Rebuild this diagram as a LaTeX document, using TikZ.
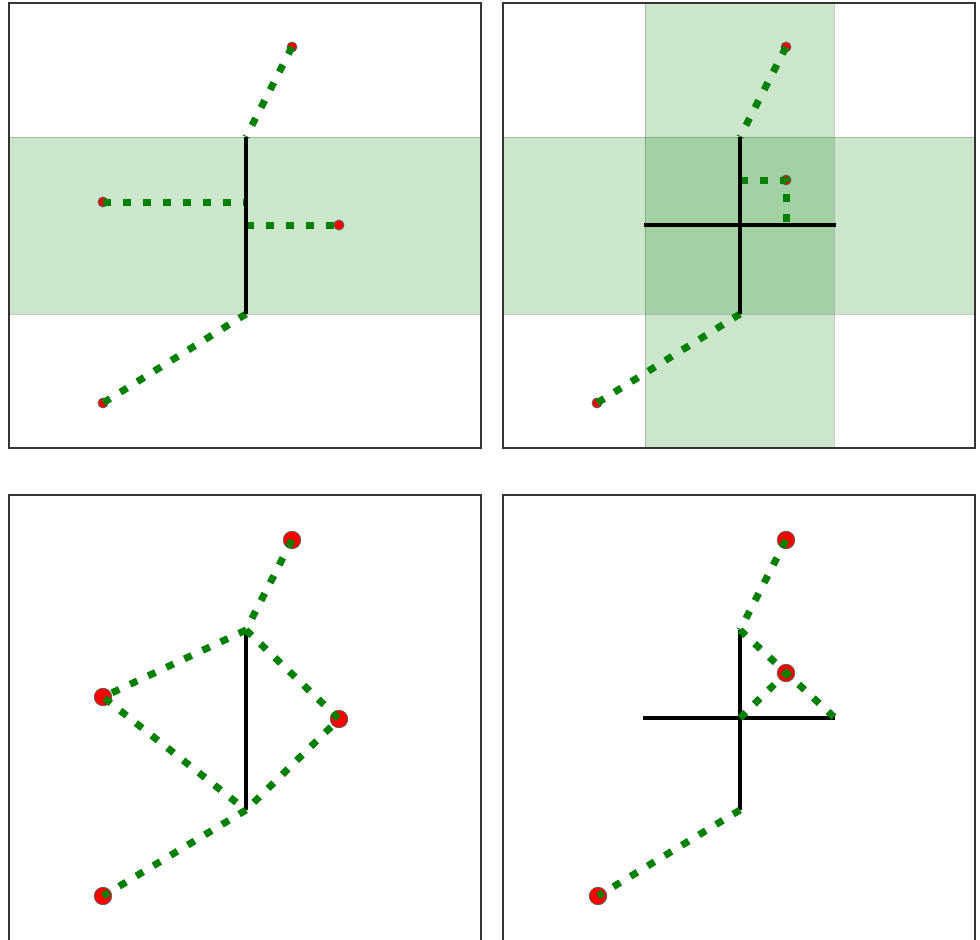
\documentclass[tikz,border=0pt]{standalone}
\usetikzlibrary{positioning}
\definecolor{mplgreen}{HTML}{008000}
\definecolor{mplred}{HTML}{FF0000}
\definecolor{edge}{HTML}{333333}

\begin{document}
\begin{tikzpicture}[x=0.2mm,y=-0.2mm]
  \tikzset{
    frame/.style={draw=edge,line width=.3mm},
    band/.style={fill=mplgreen,fill opacity=.2,draw=black,draw opacity=.2,line width=.2mm},
    seg/.style={draw=black,line width=.85mm},
    thinseg/.style={draw=black,line width=.65mm},
    link/.style={draw=mplgreen,line width=1.4mm,dash pattern=on 1.6mm off 2.4mm},
    dot/.style={circle,draw=edge!80,fill=mplred,inner sep=0pt,minimum size=2mm,line width=.15mm},
    bigdot/.style={dot,minimum size=3.5mm}
  }
  \useasboundingbox (0,0) rectangle (980,939);

  % top left
  \draw[band] (9,137) rectangle (481,314);
  \coordinate (jt1) at (246,137);
  \coordinate (jb1) at (246,314);
  \coordinate (jl1) at (246,202);
  \coordinate (jr1) at (246,225);
  \node[dot] (top1) at (292,47) {};
  \node[dot] (lft1) at (103,202) {};
  \node[dot] (rgt1) at (339,225) {};
  \node[dot] (bot1) at (103,403) {};
  \draw[link] (top1.center)--(jt1);
  \draw[link] (lft1.center)--(jl1);
  \draw[link] (jr1)--(rgt1.center);
  \draw[link] (jb1)--(bot1.center);
  \draw[seg] (jt1)--(jb1);
  \draw[frame] (9,3) rectangle (481,448);

  % top right
  \draw[band] (503,137) rectangle (975,314);
  \draw[band] (645,3) rectangle (834,448);
  \coordinate (jt2) at (740,137);
  \coordinate (jb2) at (740,314);
  \coordinate (jm2) at (740,180);
  \coordinate (hl2) at (644,225);
  \coordinate (hr2) at (836,225);
  \coordinate (hk2) at (786,225);
  \node[dot] (top2) at (786,47) {};
  \node[dot] (mid2) at (786,180) {};
  \node[dot] (bot2) at (597,403) {};
  \draw[link] (top2.center)--(jt2);
  \draw[link] (jm2)--(mid2.center)--(hk2);
  \draw[link] (jb2)--(bot2.center);
  \draw[seg] (jt2)--(jb2);
  \draw[seg] (hl2)--(hr2);
  \draw[frame] (503,3) rectangle (975,448);

  % bottom left
  \coordinate (jt3) at (246,630);
  \coordinate (jb3) at (246,810);
  \node[bigdot] (top3) at (292,540) {};
  \node[bigdot] (lft3) at (103,697) {};
  \node[bigdot] (rgt3) at (339,719) {};
  \node[bigdot] (bot3) at (103,896) {};
  \draw[thinseg] (jt3)--(jb3);
  \draw[link] (top3.center)--(jt3);
  \draw[link] (jt3)--(lft3.center)--(jb3);
  \draw[link] (jt3)--(rgt3.center)--(jb3);
  \draw[link] (jb3)--(bot3.center);
  \draw[frame] (9,950) |- (481,495) -- (481,950);

  % bottom right
  \coordinate (jt4) at (740,630);
  \coordinate (jb4) at (740,810);
  \coordinate (jc4) at (740,718);
  \coordinate (hl4) at (643,718);
  \coordinate (hr4) at (835,718);
  \node[bigdot] (top4) at (786,540) {};
  \node[bigdot] (mid4) at (786,673) {};
  \node[bigdot] (bot4) at (598,896) {};
  \draw[thinseg] (jt4)--(jb4);
  \draw[thinseg] (hl4)--(hr4);
  \draw[link] (top4.center)--(jt4);
  \draw[link] (jt4)--(hr4);
  \draw[link] (jc4)--(mid4.center);
  \draw[link] (jb4)--(bot4.center);
  \draw[frame] (503,950) |- (975,495) -- (975,950);
\end{tikzpicture}
\end{document}
